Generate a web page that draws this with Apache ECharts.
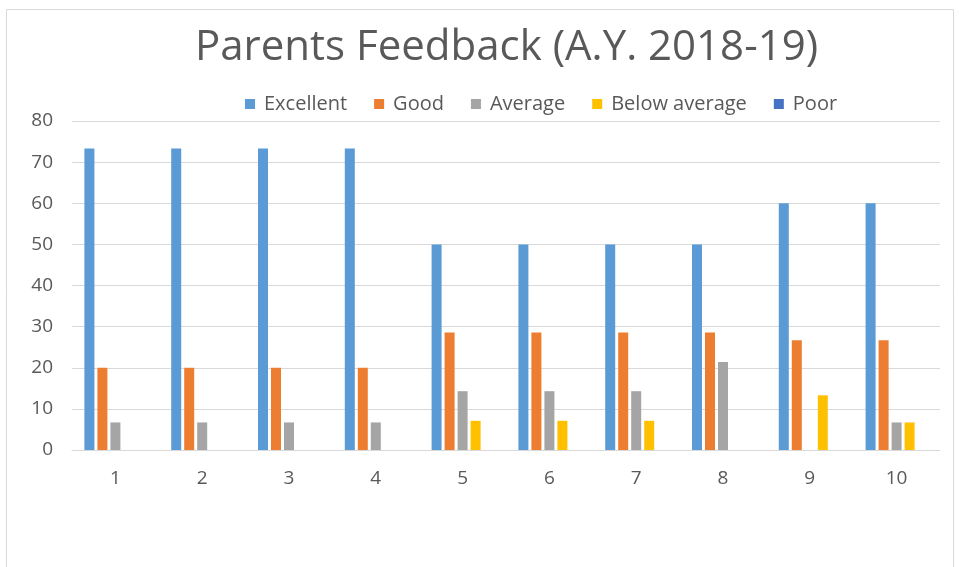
<!DOCTYPE html>
<html>
<head>
<meta charset="utf-8">
<script src="https://cdn.jsdelivr.net/npm/echarts@6/dist/echarts.min.js"></script>
<style>
  html, body { margin: 0; padding: 0; background: #fff; }
  #chart { width: 959px; height: 567px; }
</style>
</head>
<body>
<div id="chart"></div>
<script>
  // questions 1..10
  var categories = ['1', '2', '3', '4', '5', '6', '7', '8', '9', '10'];
  var excellent = [73.3, 73.3, 73.3, 73.3, 50, 50, 50, 50, 60, 60];
  var good = [20, 20, 20, 20, 28.6, 28.6, 28.6, 28.6, 26.7, 26.7];
  var average = [6.7, 6.7, 6.7, 6.7, 14.3, 14.3, 14.3, 21.4, 0, 6.7];
  var belowAverage = [0, 0, 0, 0, 7.1, 7.1, 7.1, 0, 13.3, 6.7];
  var poor = [0, 0, 0, 0, 0, 0, 0, 0, 0, 0];

  var seriesNames = ['Excellent', 'Good', 'Average', 'Below average', 'Poor'];
  var seriesData = [excellent, good, average, belowAverage, poor];
  var colors = ['#5B9BD5', '#ED7D31', '#A5A5A5', '#FFC000', '#4472C4'];

  var myEcharts = echarts.init(document.getElementById('chart'));

  var option = {
    animation: false,
    color: colors,
    graphic: [
      {
        type: 'rect',
        shape: { x: 6.5, y: 9.5, width: 947, height: 600 },
        style: { fill: 'none', stroke: '#d9d9d9', lineWidth: 1 },
        silent: true
      }
    ],
    title: {
      text: 'Parents Feedback (A.Y. 2018-19)',
      left: 190,
      top: 22,
      textStyle: {
        fontFamily: 'Open Sans',
        fontWeight: 'normal',
        fontSize: 42,
        color: '#595959'
      }
    },
    legend: {
      top: 89,
      left: 240,
      itemWidth: 10,
      itemHeight: 10,
      itemGap: 27,
      icon: 'rect',
      textStyle: {
        fontFamily: 'Open Sans',
        fontSize: 20,
        color: '#595959',
        padding: [0, 0, 0, 4]
      },
      data: seriesNames
    },
    grid: {
      left: 72,
      right: 19,
      top: 121,
      bottom: 117,
      containLabel: false
    },
    xAxis: {
      type: 'category',
      data: categories,
      axisTick: { show: false },
      axisLine: { lineStyle: { color: '#d9d9d9', width: 1 } },
      axisLabel: {
        fontFamily: 'Open Sans',
        fontSize: 19,
        color: '#595959',
        margin: 19
      }
    },
    yAxis: {
      type: 'value',
      min: 0,
      max: 80,
      interval: 10,
      axisLine: { show: false },
      axisTick: { show: false },
      axisLabel: {
        fontFamily: 'Open Sans',
        fontSize: 19,
        color: '#595959',
        margin: 19
      },
      splitLine: { lineStyle: { color: '#d9d9d9', width: 1 } }
    },
    series: seriesNames.map(function (name, i) {
      return {
        name: name,
        type: 'bar',
        data: seriesData[i],
        barWidth: 10,
        barGap: '30%',
        itemStyle: { color: colors[i] }
      };
    })
  };

  myEcharts.setOption(option, true);
</script>
</body>
</html>
